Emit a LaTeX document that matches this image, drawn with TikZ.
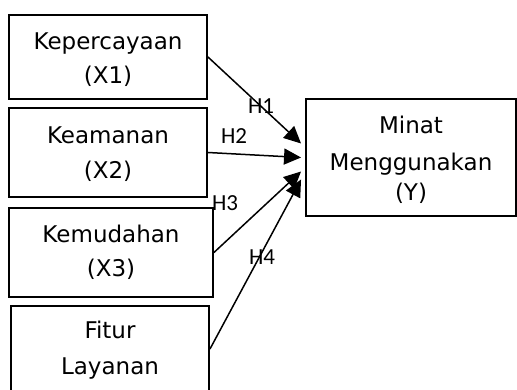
\documentclass[tikz,border=0pt]{standalone}
\usepackage{fontspec}
\setmainfont{DejaVu Sans}
\newfontfamily\lblfont{Carlito}
\usetikzlibrary{arrows.meta}
\newcommand\ttop[1]{\rule{0pt}{#1}}
\newcommand\tbot[1]{\rule[-#1]{0pt}{#1}}
\begin{document}
\begin{tikzpicture}[x=1pt,y=1pt,
  box/.style={draw, line width=1.9pt, align=center, inner sep=0pt,
    font=\fontsize{23}{34}\selectfont},
  conn/.style={line width=1.5pt, -{Triangle[length=17pt,width=16pt]}},
  hlabel/.style={font=\lblfont\fontsize{23}{25}\selectfont, inner sep=0pt}]
\useasboundingbox (0,0) rectangle (517,390);
\clip (0,0) rectangle (517,390);
\node[box, minimum width=198pt, minimum height=84pt] (b1) at (108,333)
  {\ttop{25pt}Kepercayaan\\(X1)\tbot{5pt}};
\node[box, minimum width=198pt, minimum height=89pt] (b2) at (108,237.5)
  {\ttop{23pt}Keamanan\\[1pt](X2)\tbot{5pt}};
\node[box, minimum width=204pt, minimum height=89pt] (b3) at (111,137.5)
  {\ttop{20pt}Kemudahan\\(X3)\tbot{5pt}};
\node[box, minimum width=198pt, minimum height=94pt] (b4) at (110,37)
  {\ttop{20pt}Fitur\\[2pt]Layanan\tbot{12pt}};
\node[box, minimum width=210pt, minimum height=117pt] (y) at (411,232.5)
  {\ttop{25pt}Minat\\[3pt]Menggunakan\\[-4pt](Y)\tbot{5pt}};
\draw[conn] (b1.east) -- ([xshift=-4pt,yshift=14pt]y.west);
\draw[conn] (b2.east) -- ([xshift=-4pt]y.west);
\draw[conn] (b3.east) -- ([xshift=-4pt,yshift=-14pt]y.west);
\draw[conn] ([yshift=-44pt]b4.north east) -- ([xshift=-4pt,yshift=-22pt]y.west);
\node[hlabel] (h1) at (261,284) {H1};
\node[hlabel] (h2) at (234,254) {H2};
\node[hlabel] (h3) at (225,187) {H3};
\node[hlabel] (h4) at (262,133) {H4};
\end{tikzpicture}
\end{document}
